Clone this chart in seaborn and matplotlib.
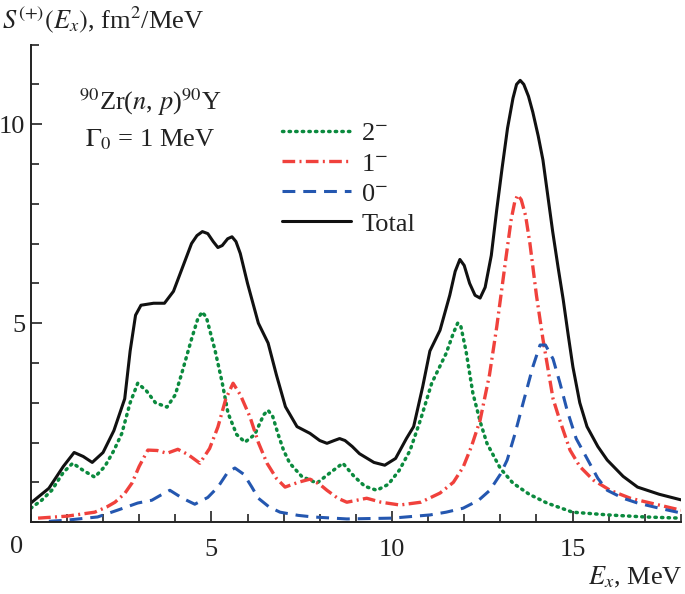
import numpy as np
import pandas as pd
import seaborn as sns
import matplotlib
matplotlib.use('Agg')
import matplotlib.pyplot as plt
from matplotlib.ticker import MultipleLocator

# values
x_total = [0.0, 0.5, 0.9, 1.2, 1.45, 1.7, 2.0, 2.3, 2.6, 2.75, 2.9, 3.05, 3.4, 3.7, 3.95,
           4.2, 4.45, 4.6, 4.75, 4.9, 5.05, 5.18, 5.3, 5.45, 5.57, 5.68, 5.8, 6.0, 6.3,
           6.57, 6.8, 7.05, 7.37, 7.73, 8.0, 8.2, 8.4, 8.55, 8.7, 8.9, 9.1, 9.5, 9.8, 10.1,
           10.4, 10.6, 10.85, 11.05, 11.33, 11.6, 11.75, 11.88, 12.0, 12.15, 12.3, 12.44,
           12.58, 12.75, 12.9, 13.05, 13.2, 13.35, 13.45, 13.55, 13.65, 13.78, 13.9, 14.05,
           14.18, 14.3, 14.45, 14.6, 14.74, 14.88, 15.01, 15.2, 15.4, 15.7, 15.96, 16.4,
           16.8, 17.4, 18.0]
y_total = [0.48, 0.85, 1.4, 1.75, 1.65, 1.5, 1.75, 2.3, 3.1, 4.3, 5.2, 5.45, 5.5, 5.5, 5.8,
           6.4, 7.0, 7.2, 7.3, 7.25, 7.05, 6.9, 6.95, 7.12, 7.17, 7.05, 6.75, 6.0, 5.0,
           4.5, 3.7, 2.9, 2.4, 2.23, 2.05, 1.98, 2.05, 2.1, 2.05, 1.9, 1.72, 1.5, 1.43, 1.6,
           2.1, 2.4, 3.4, 4.3, 4.82, 5.7, 6.3, 6.6, 6.45, 6.0, 5.7, 5.63,
           5.9, 6.7, 7.84, 8.9, 9.9, 10.65, 11.0, 11.1, 11.0, 10.7, 10.3, 9.7,
           9.1, 8.3, 7.3, 6.4, 5.6, 4.7, 3.9, 3.0, 2.4, 1.9, 1.56, 1.15,
           0.88, 0.7, 0.56]

x_2m = [0.0, 0.3, 0.58, 0.9, 1.16, 1.45, 1.77, 2.05, 2.3, 2.52, 2.75, 2.96, 3.2, 3.45, 3.77,
        4.0, 4.18, 4.45, 4.62, 4.74, 4.86, 5.1, 5.3, 5.46, 5.7, 5.93, 6.2, 6.45, 6.57, 6.7,
        6.85, 7.0, 7.17, 7.5, 7.92, 8.3, 8.64, 8.95, 9.25, 9.58, 9.9, 10.2, 10.5, 10.8,
        11.1, 11.5, 11.7, 11.82, 11.9, 12.05, 12.24, 12.45, 12.63, 13.0, 13.35, 13.8,
        14.29, 15.0, 16.0, 17.0, 18.0]
y_2m = [0.35, 0.55, 0.8, 1.25, 1.48, 1.3, 1.13, 1.4, 1.8, 2.23, 3.0, 3.49, 3.3, 3.0, 2.89,
        3.2, 3.74, 4.6, 5.1, 5.28, 5.15, 4.32, 3.5, 2.74, 2.2, 2.01, 2.2, 2.7, 2.81, 2.65,
        2.2, 1.8, 1.48, 1.15, 0.98, 1.25, 1.48, 1.15, 0.9, 0.8, 0.95, 1.3, 1.8, 2.6,
        3.49, 4.24, 4.75, 5.0, 4.95, 4.3, 3.24, 2.5, 1.98, 1.35, 0.98, 0.7,
        0.48, 0.25, 0.18, 0.13, 0.1]

x_1m = [0.2, 1.0, 1.77, 2.1, 2.33, 2.6, 2.8, 3.0, 3.24, 3.5, 3.77, 4.07, 4.35, 4.68, 4.95,
        5.18, 5.4, 5.6, 5.8, 6.07, 6.3, 6.54, 6.8, 7.04, 7.4, 7.73, 8.0, 8.2, 8.5, 8.75,
        9.3, 9.7, 10.22, 10.8, 11.33, 11.7, 11.97, 12.2, 12.44, 12.7, 12.9, 13.15, 13.3,
        13.4, 13.48, 13.58, 13.7, 13.82, 14.0, 14.18, 14.46, 14.65, 14.93, 15.2, 15.57,
        16.04, 16.6, 17.3, 18.0]
y_1m = [0.1, 0.15, 0.25, 0.38, 0.5, 0.72, 0.98, 1.4, 1.81, 1.8, 1.73, 1.83, 1.7, 1.48, 1.85,
        2.39, 3.1, 3.49, 3.2, 2.64, 2.0, 1.48, 1.1, 0.88, 1.0, 1.08, 0.95, 0.8, 0.6, 0.5,
        0.6, 0.5, 0.43, 0.5, 0.73, 1.0, 1.38, 1.9, 2.56, 3.7, 4.9, 6.6, 7.6,
        8.05, 8.22, 8.1, 7.7, 7.0, 5.7, 4.6, 3.1, 2.55, 1.81, 1.4, 1.06,
        0.8, 0.6, 0.45, 0.3]

x_0m = [0.5, 1.0, 1.85, 2.4, 2.96, 3.35, 3.6, 3.85, 4.2, 4.54, 4.9, 5.18, 5.45, 5.65, 5.9,
        6.12, 6.3, 6.6, 6.9, 7.4, 7.81, 8.75, 10.0, 11.05, 11.5, 11.97, 12.4, 12.71, 13.0,
        13.19, 13.4, 13.63, 13.9, 14.1, 14.25, 14.46, 14.65, 14.85, 15.1, 15.4, 15.7,
        15.96, 16.4, 16.8, 17.4, 18.0]
y_0m = [0.02, 0.05, 0.13, 0.3, 0.48, 0.55, 0.68, 0.8, 0.6, 0.45, 0.62, 0.88, 1.25, 1.36, 1.2,
        0.88, 0.6, 0.38, 0.25, 0.17, 0.13, 0.08, 0.1, 0.18, 0.25, 0.35, 0.55, 0.8, 1.2,
        1.56, 2.2, 2.99, 3.9, 4.45, 4.45, 4.1, 3.5, 2.81, 2.1, 1.6, 1.1,
        0.8, 0.6, 0.48, 0.35, 0.23]

series = [
    ('2$^{-}$', x_2m, y_2m, '#0b8a3e', (0, (0.4, 1.5)), 2.5, 'round'),
    ('1$^{-}$', x_1m, y_1m, '#f0413c', (0, (3.8, 1.3, 0.6, 1.3)), 2.4, 'butt'),
    ('0$^{-}$', x_0m, y_0m, '#2457b0', (0, (4.2, 2.6)), 2.2, 'butt'),
    ('Total', x_total, y_total, '#111111', '-', 2.2, 'butt'),
]

sns.set_theme(style='ticks')
plt.rcParams['font.family'] = ['Liberation Serif', 'DejaVu Serif']
plt.rcParams['mathtext.fontset'] = 'stix'

fig = plt.figure(figsize=(6.85, 5.94), dpi=100)
ax = fig.add_axes([0.045, 0.121, 0.949, 0.804])

for name, xs, ys, col, ls, lw, cap in series:
    df = pd.DataFrame({'E': xs, 'S': ys})
    sns.lineplot(data=df, x='E', y='S', ax=ax, color=col, linestyle=ls, linewidth=lw,
                 label=name, dash_capstyle=cap, solid_capstyle='round',
                 solid_joinstyle='round')

ax.set_xlim(0, 18)
ax.set_ylim(0, 12)
ax.xaxis.set_major_locator(MultipleLocator(5))
ax.xaxis.set_minor_locator(MultipleLocator(1))
ax.yaxis.set_major_locator(MultipleLocator(5))
ax.yaxis.set_minor_locator(MultipleLocator(1))
ax.set_xticks([5, 10, 15])
ax.set_yticks([5, 10])
ax.tick_params(which='both', direction='in', width=1.2, colors='#222222', labelsize=19,
               labelcolor='#222222')
ax.tick_params(which='major', length=8)
ax.tick_params(which='minor', length=6)
ax.tick_params(axis='x', pad=12)
ax.tick_params(axis='y', pad=4)
for s in ['top', 'right']:
    ax.spines[s].set_visible(False)
for s in ['left', 'bottom']:
    ax.spines[s].set_linewidth(1.4)
    ax.spines[s].set_color('#222222')
ax.set_xlabel('')
ax.set_ylabel('')

ax.text(-0.022, -0.03, '0', transform=ax.transAxes, ha='center', va='top',
        fontsize=19, color='#222222')

fig.text(0.003, 0.952, r'$S^{(+)}(E_x)$, fm$^2$/MeV', ha='left', va='baseline',
         fontsize=19, color='#222222')
fig.text(0.997, 0.016, r'$E_x$, MeV', ha='right', va='baseline', fontsize=19,
         color='#222222')

ax.text(3.3, 10.55, r'$^{90}$Zr($n$, $p$)$^{90}$Y', ha='center', va='center',
        fontsize=19, color='#222222')
ax.text(3.3, 9.6, r'$\Gamma_0$ = 1 MeV', ha='center', va='center',
        fontsize=19, color='#222222')

leg = ax.legend(loc='upper left', bbox_to_anchor=(0.37, 0.86), frameon=False,
                fontsize=19, handlelength=2.6, handletextpad=0.4, labelspacing=0.25,
                borderaxespad=0)
for t in leg.get_texts():
    t.set_color('#222222')

fig.savefig('out.png', dpi=100)
